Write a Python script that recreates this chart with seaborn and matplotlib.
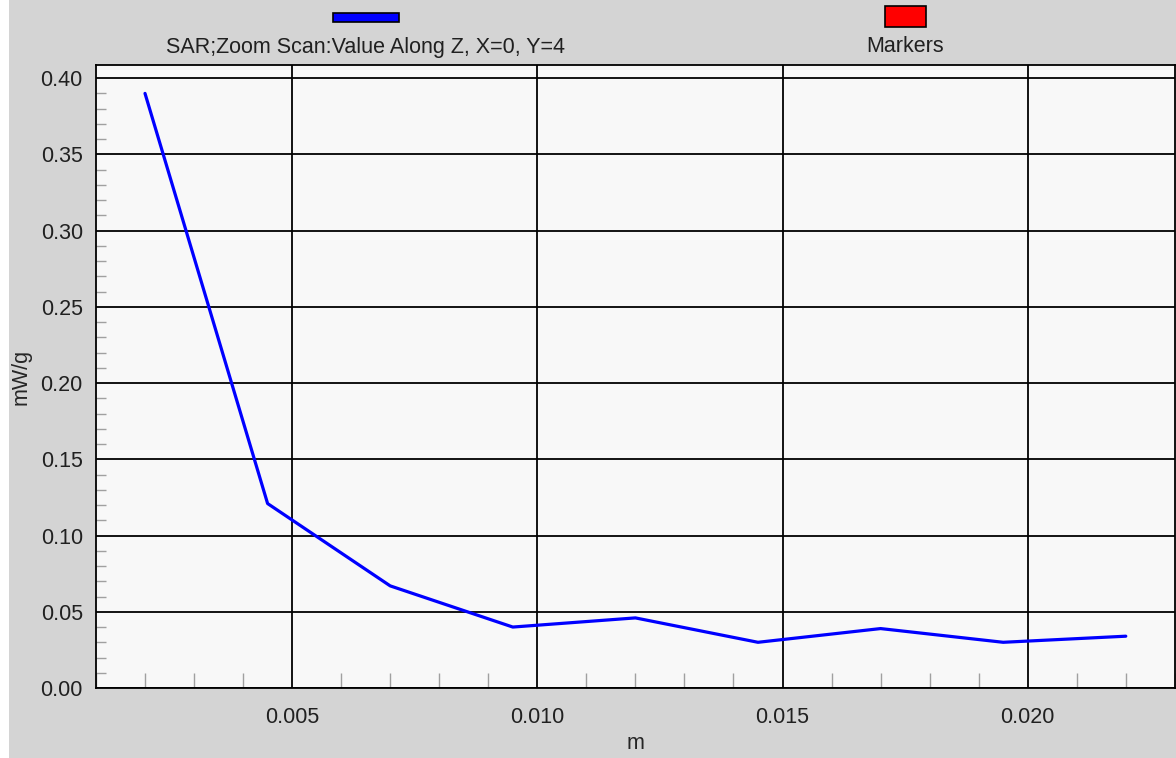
import numpy as np
import pandas as pd
import seaborn as sns
import matplotlib.pyplot as plt
from matplotlib.patches import Rectangle
from matplotlib.ticker import MultipleLocator, FormatStrFormatter

# -------------------------------
# DATA
# -------------------------------
z_pos = [0.002, 0.0045, 0.007, 0.0095, 0.012, 0.0145, 0.017, 0.0195, 0.022]
sar_vals = [0.390, 0.121, 0.067, 0.040, 0.046, 0.030, 0.039, 0.030, 0.034]
series_name = "SAR;Zoom Scan:Value Along Z, X=0, Y=4"
marker_name = "Markers"
x_label = "m"
y_label = "mW/g"

df = pd.DataFrame({"z": z_pos, "sar": sar_vals})

# -------------------------------
# STYLE
# -------------------------------
sns.set_style("white")
plt.rcParams["font.family"] = ["Liberation Sans", "DejaVu Sans"]
plt.rcParams["font.size"] = 15.5

fig = plt.figure(figsize=(11.76, 7.58), dpi=100, facecolor="#d4d4d4")
ax = fig.add_axes([0.0816, 0.0923, 0.9174, 0.8217])
ax.set_facecolor("#f8f8f8")

# white strip on the far left
fig.patches.append(Rectangle((0, 0), 9 / 1176, 1, transform=fig.transFigure,
                             facecolor="white", edgecolor="none", zorder=0))

ax.set_xlim(0.001, 0.023)
ax.set_ylim(0.0, 0.4085)

ax.xaxis.set_major_locator(MultipleLocator(0.005))
ax.xaxis.set_minor_locator(MultipleLocator(0.001))
ax.yaxis.set_major_locator(MultipleLocator(0.05))
ax.yaxis.set_minor_locator(MultipleLocator(0.01))
ax.xaxis.set_major_formatter(FormatStrFormatter("%.3f"))
ax.yaxis.set_major_formatter(FormatStrFormatter("%.2f"))

ax.grid(True, which="major", color="black", linewidth=1.3)
ax.set_axisbelow(True)

ax.tick_params(axis="both", which="major", direction="out", color="black",
               width=1.3, labelsize=15.5, labelcolor="#202020")
ax.tick_params(axis="x", which="major", length=11.5, pad=2)
ax.tick_params(axis="y", which="major", length=7.5, pad=2)
ax.tick_params(axis="x", which="minor", direction="in", length=10.5,
               color="#a0a0a0", width=1.0, bottom=True)
ax.tick_params(axis="y", which="minor", direction="in", length=7.2,
               color="#a0a0a0", width=1.0, left=True)

for side in ["left", "bottom", "top", "right"]:
    ax.spines[side].set_color("black")
    ax.spines[side].set_linewidth(1.3)

sns.lineplot(data=df, x="z", y="sar", ax=ax, color="#0000ff", linewidth=2.3,
             legend=False, zorder=5)

ax.set_xlabel(x_label, fontsize=15.5, labelpad=4)
ax.set_ylabel(y_label, fontsize=15.5, labelpad=6)

# -------------------------------
# LEGEND (top, drawn manually)
# -------------------------------
fig.patches.append(Rectangle((333 / 1176, 1 - 22 / 758), 66 / 1176, 9 / 758,
                             transform=fig.transFigure, facecolor="#0000ff",
                             edgecolor="black", linewidth=1.2))
fig.text(366 / 1176, 1 - 47 / 758, series_name, ha="center", va="center",
         fontsize=15.5, color="#202020")

fig.patches.append(Rectangle((885 / 1176, 1 - 27 / 758), 41 / 1176, 21 / 758,
                             transform=fig.transFigure, facecolor="#ff0000",
                             edgecolor="black", linewidth=1.2))
fig.text(905 / 1176, 1 - 47 / 758, marker_name, ha="center", va="center",
         fontsize=15.5, color="#202020")

fig.savefig("out.png", dpi=100, facecolor=fig.get_facecolor())
